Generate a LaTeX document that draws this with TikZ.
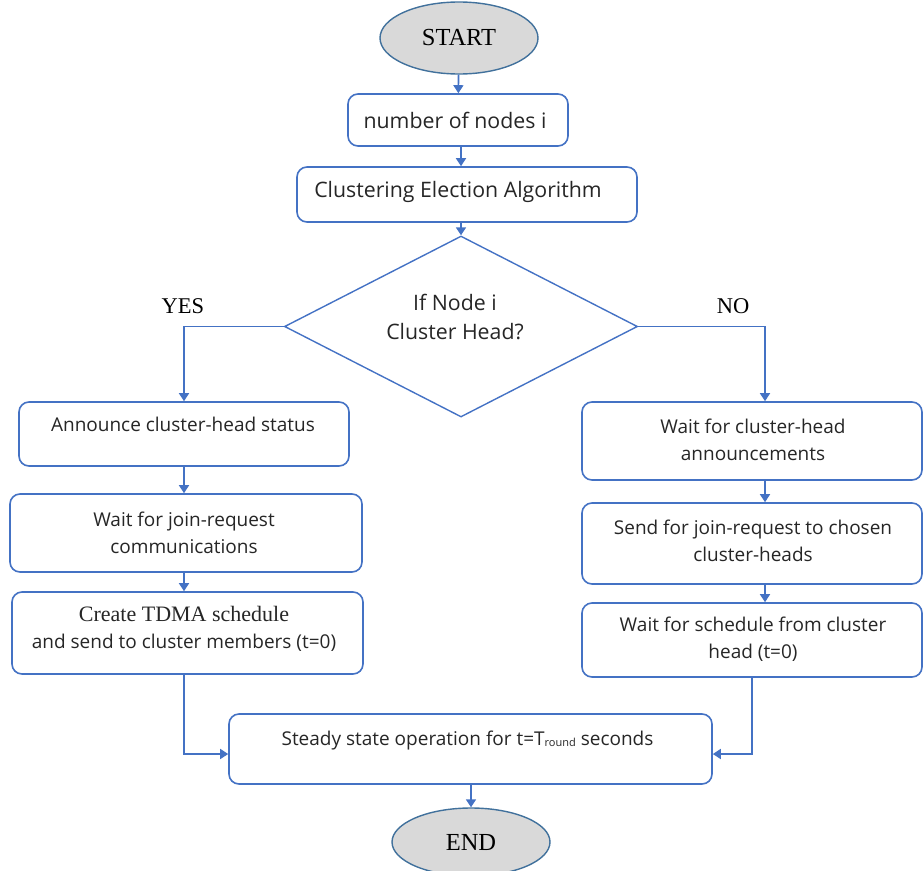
\documentclass[tikz,border=0pt]{standalone}
\usepackage{fontspec}
\setmainfont{Liberation Serif}
\newfontfamily\boxfont{Open Sans}
\usetikzlibrary{arrows.meta,shapes.geometric}
\definecolor{bblue}{HTML}{4472C4}
\definecolor{eblue}{HTML}{41719C}
\definecolor{egray}{HTML}{D9D9D9}
\definecolor{tgray}{HTML}{262626}
\tikzset{
  box/.style={draw=bblue, line width=1.6pt, rounded corners=10pt, inner sep=0pt, fill=white},
  term/.style={ellipse, draw=eblue, line width=1.4pt, fill=egray, inner sep=0pt,
     minimum width=158pt, font=\fontsize{24.5}{27}\selectfont, text=black},
  dec/.style={diamond, draw=bblue, line width=1.4pt, inner sep=0pt,
     minimum width=353pt, minimum height=181pt},
  txt/.style={font=\boxfont\fontsize{19}{27}\selectfont, text=tgray, align=center, inner sep=0pt},
  bigtxt/.style={txt, font=\boxfont\fontsize{21.3}{29}\selectfont},
  stxt/.style={font=\fontsize{22.5}{27}\selectfont, text=black, align=center, inner sep=0pt},
  conn/.style={draw=bblue, line width=1.6pt, -{Triangle[width=10pt,length=8pt]}},
}
\begin{document}
\begin{tikzpicture}[x=1pt,y=-1pt]
\useasboundingbox (0,0) rectangle (923,870);
% terminals
\node[term, minimum height=72pt] (start) at (459,38) {START};
\node[term, minimum height=68pt] (stop) at (471,842) {END};
% top boxes
\node[box, minimum width=220pt, minimum height=52pt] (n1) at (458,120) {};
\node[bigtxt] (n1t) at (455,120) {number of nodes i};
\node[box, minimum width=340pt, minimum height=55pt] (n2) at (467,194.5) {};
\node[bigtxt] (n2t) at (458,192) {Clustering Election Algorithm};
% decision
\node[dec] (dia) at (461,326.5) {};
\node[bigtxt] (diat) at (455,317) {If Node i\\Cluster Head?};
\node[stxt] (yes) at (183,306) {YES};
\node[stxt] (no) at (733,306) {NO};
% left branch
\node[box, minimum width=330pt, minimum height=64pt] (l1) at (184,434) {};
\node[txt] (l1t) at (183,424) {Announce cluster-head status};
\node[box, minimum width=352pt, minimum height=78pt] (l2) at (186,533) {};
\node[txt] (l2t) at (184,532.5) {Wait for join-request\\communications};
\node[box, minimum width=351pt, minimum height=82pt] (l3) at (187.5,633) {};
\node[txt] (l3t) at (184,629) {{\rmfamily\fontsize{22}{27}\selectfont Create TDMA schedule}\\and send to cluster members (t=0)};
% right branch
\node[box, minimum width=340pt, minimum height=78pt] (r1) at (752,441) {};
\node[txt] (r1t) at (753,439.5) {Wait for cluster-head\\announcements};
\node[box, minimum width=340pt, minimum height=81pt] (r2) at (752,543.5) {};
\node[txt] (r2t) at (753,541) {Send for join-request to chosen\\cluster-heads};
\node[box, minimum width=340pt, minimum height=74pt] (r3) at (752,640) {};
\node[txt] (r3t) at (753,639.5) {Wait for schedule from cluster\\head (t=0)};
% steady
\node[box, minimum width=483pt, minimum height=70pt] (st) at (470.5,749) {};
\node[txt] (stt) at (467.5,741) {Steady state operation for t=T\raisebox{-1pt}{\fontsize{11}{11}\selectfont round} seconds};
% connectors
\draw[conn] (start) -- (n1);
\draw[conn] (n1.south -| dia.north) -- (dia.north |- n2.north);
\draw[conn] (n2.south -| dia.north) -- (dia.north);
\draw[conn] (dia.west) -| (l1.north);
\draw[conn] (dia.east) -| ([xshift=13pt]r1.north);
\draw[conn] (l1.south) -- (l1.south |- l2.north);
\draw[conn] (l2.south -| l1.south) -- (l1.south |- l3.north);
\draw[conn] ([xshift=13pt]r1.south) -- ([xshift=13pt]r1.south |- r2.north);
\draw[conn] ([xshift=13pt]r2.south) -- ([xshift=13pt]r2.south |- r3.north);
\draw[conn] (l3.south -| l1.south) |- ([yshift=-5pt]st.west);
\draw[conn] (r3.south) |- ([yshift=-5pt]st.east);
\draw[conn] (st.south -| stop.north) -- (stop.north);
\end{tikzpicture}
\end{document}
